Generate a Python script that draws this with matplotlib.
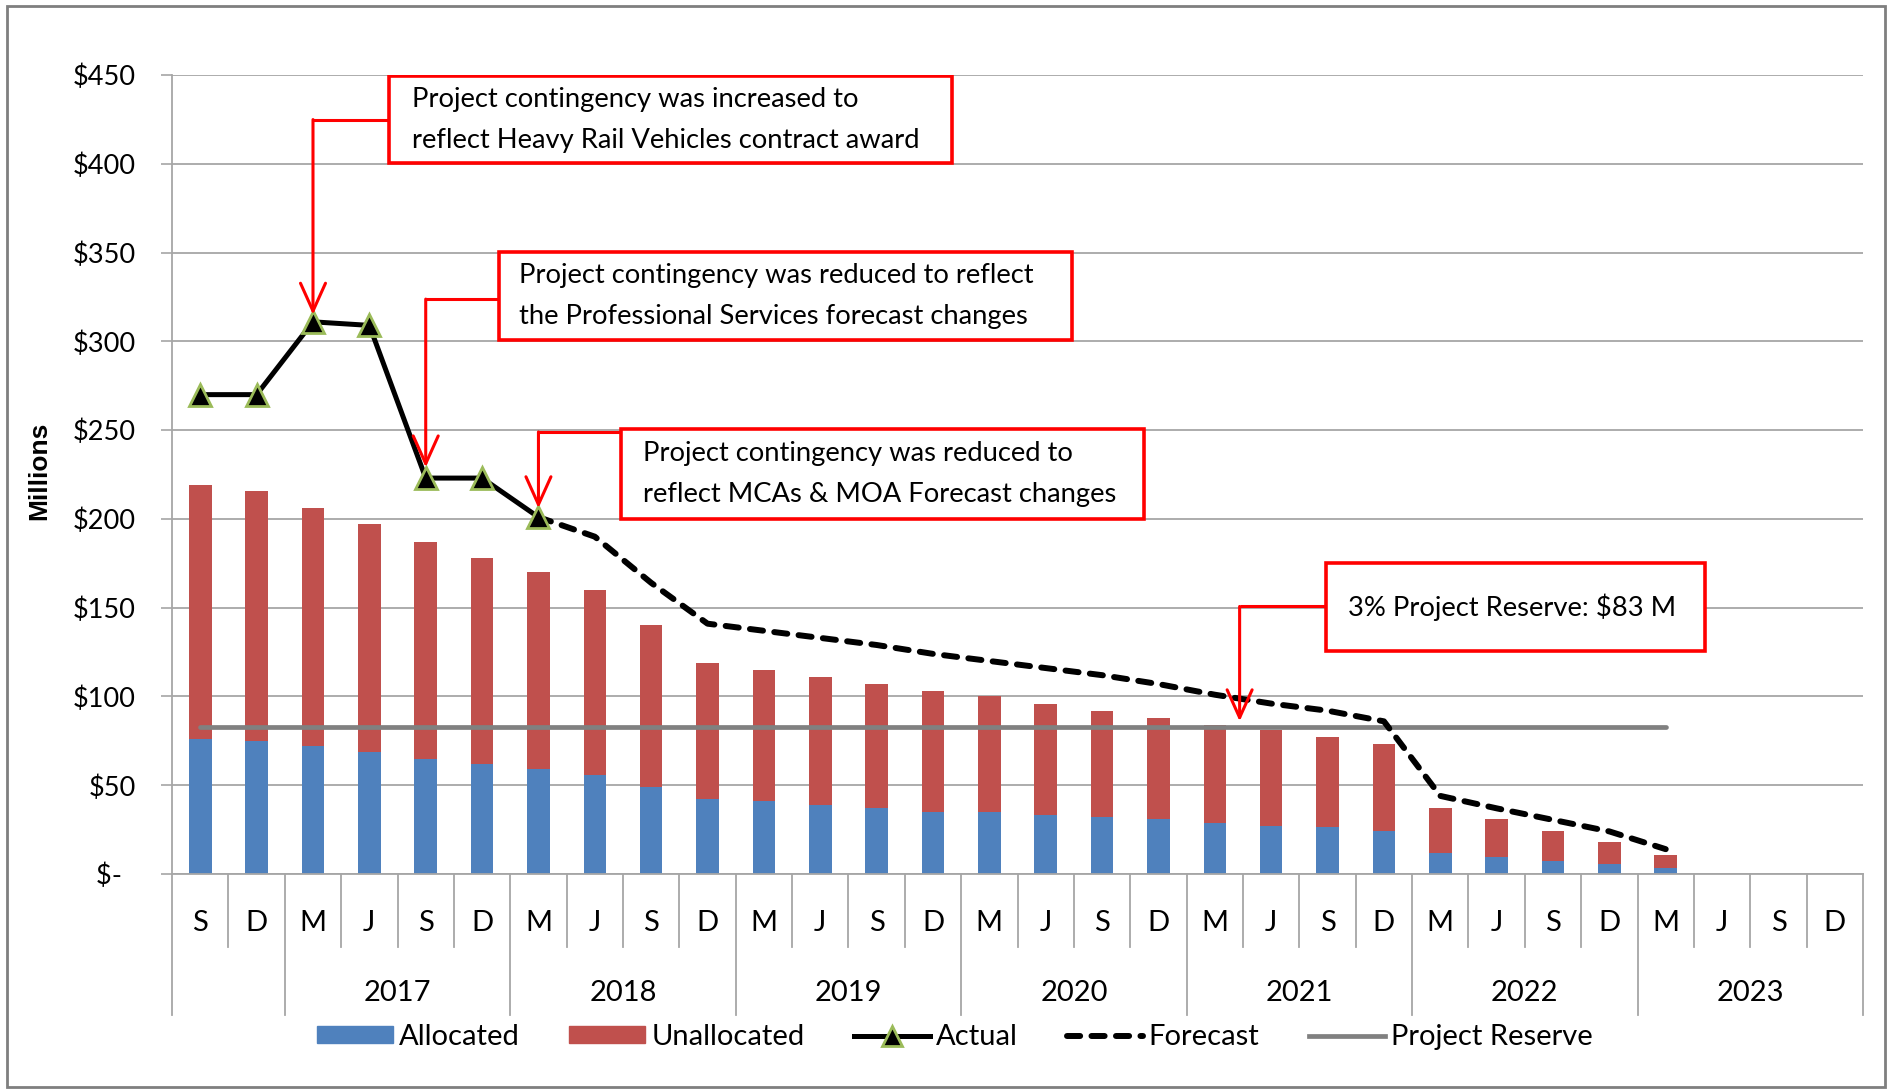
import numpy as np
import matplotlib
matplotlib.use('Agg')
import matplotlib.pyplot as plt
import matplotlib.transforms as mtransforms
from matplotlib.patches import Rectangle
from matplotlib.lines import Line2D

plt.rcParams['font.family'] = ['Lato', 'DejaVu Sans']

# category axis (quarters, grouped by year)
months = ['S', 'D',
          'M', 'J', 'S', 'D', 'M', 'J', 'S', 'D', 'M', 'J', 'S', 'D',
          'M', 'J', 'S', 'D', 'M', 'J', 'S', 'D', 'M', 'J', 'S', 'D',
          'M', 'J', 'S', 'D']
years = ['2017', '2018', '2019', '2020', '2021', '2022', '2023']
year_first = [2, 6, 10, 14, 18, 22, 26]

# values in $ millions
allocated = [76, 75, 72, 69, 65, 62, 59, 56, 49, 42, 41, 39, 37, 35, 35, 33, 32,
             31, 29, 27, 26.5, 24.5, 12, 9.5, 7.5, 5.5, 3.5]
unallocated = [143, 141, 134, 128, 122, 116, 111, 104, 91, 77, 74, 72, 70, 68, 65,
               63, 60, 57, 55, 54, 50.5, 48.5, 25, 21.5, 16.5, 12.5, 7.5]
actual = [270, 270, 311, 309, 223, 223, 201]
forecast_start = 6
forecast = [201, 190, 164, 141, 137, 133, 129, 124, 120, 116, 112, 107, 101, 96,
            92, 86, 44, 37, 30.5, 24, 14]
reserve = 83

BLUE = '#4F81BD'
RED = '#C0504D'
GRID = '#A6A6A6'
FS = 21

fig = plt.figure(figsize=(18.91, 10.89), dpi=100)
ax = fig.add_axes([0.0910, 0.1974, 0.8942, 0.7337])

x = np.arange(len(allocated))
ax.bar(x, allocated, width=0.4, color=BLUE, zorder=2)
ax.bar(x, unallocated, width=0.4, bottom=allocated, color=RED, zorder=2)

ax.plot(x, [reserve] * len(x), color='#808080', lw=3.4, zorder=3,
        solid_capstyle='round')
xf = np.arange(forecast_start, forecast_start + len(forecast))
ax.plot(xf, forecast, color='black', lw=4.3, ls=(0, (2.2, 1.9)),
        dash_capstyle='round', zorder=4)
ax.plot(np.arange(len(actual)), actual, color='black', lw=3.6, marker='^',
        ms=16, mfc='black', mec='#9BBB59', mew=2, zorder=5)

ax.set_xlim(-0.5, len(months) - 0.5)
ax.set_ylim(0, 450)
ax.set_yticks(np.arange(0, 451, 50))
ax.set_yticklabels(['$-  '] + ['$%d' % v for v in range(50, 451, 50)])
ax.tick_params(axis='y', length=8, width=1.2, color=GRID, pad=18, labelsize=19.5)
ax.tick_params(axis='x', length=0, labelbottom=False)
ax.grid(axis='y', color=GRID, lw=1.3, zorder=0)
for s in ['top', 'right']:
    ax.spines[s].set_visible(False)
for s in ['left', 'bottom']:
    ax.spines[s].set_color(GRID)
    ax.spines[s].set_linewidth(1.3)

# multi-level category axis
trans = mtransforms.blended_transform_factory(ax.transData, ax.transAxes)
for i, m in enumerate(months):
    ax.text(i, -0.0613, m, transform=trans, ha='center', va='center', fontsize=FS)
for i in range(len(months) + 1):
    depth = -0.1763 if (i in year_first or i == 0 or i == len(months)) else -0.0913
    ax.plot([i - 0.5, i - 0.5], [0, depth], color=GRID, lw=1.3,
            transform=trans, clip_on=False)
for k, yr in enumerate(years):
    c = year_first[k] + 1.5
    ax.text(c, -0.1488, yr, transform=trans, ha='center', va='center', fontsize=FS)

fig.text(0.0206, 0.568, 'Millions', rotation=90, ha='center', va='center',
         fontsize=19, fontweight='bold', family=['Liberation Sans', 'DejaVu Sans'])

# callouts: box (x0, x1, y0, y1), text x, lines, connector y, corner x, tip y
notes = [
    ((3.35, 13.34, 400.5, 449.3), 3.76,
     'Project contingency was increased to\nreflect Heavy Rail Vehicles contract award',
     424.9, 2.0, 315),
    ((5.30, 15.46, 300.7, 350.2), 5.66,
     'Project contingency was reduced to reflect\nthe Professional Services forecast changes',
     323.8, 4.0, 229),
    ((7.46, 16.75, 200.2, 250.5), 7.85,
     'Project contingency was reduced to\nreflect MCAs & MOA Forecast changes',
     249.0, 6.0, 206),
    ((19.98, 26.70, 125.6, 175.1), 20.36,
     '3% Project Reserve: $83 M',
     150.7, 18.44, 86),
]
for (x0, x1, y0, y1), tx, txt, cy, cx, tip in notes:
    ax.add_patch(Rectangle((x0, y0), x1 - x0, y1 - y0, facecolor='white',
                           edgecolor='red', lw=2.6, zorder=6))
    ax.text(tx, (y0 + y1) / 2, txt, ha='left', va='center', fontsize=19.7,
            linespacing=1.8, zorder=7)
    ax.plot([cx, x0], [cy, cy], color='red', lw=2.2, zorder=6,
            solid_capstyle='butt')
    ax.annotate('', xy=(cx, tip), xytext=(cx, cy),
                arrowprops=dict(arrowstyle='->,head_length=1.0,head_width=0.45',
                                color='red', lw=2.2, shrinkA=0, shrinkB=0,
                                mutation_scale=20),
                zorder=6)

handles = [
    Rectangle((0, 0), 1, 1, color=BLUE),
    Rectangle((0, 0), 1, 1, color=RED),
    Line2D([], [], color='black', lw=3.6, marker='^', ms=14, mfc='black',
           mec='#9BBB59', mew=2),
    Line2D([], [], color='black', lw=4.3, ls=(0, (2.2, 1.9)), dash_capstyle='round'),
    Line2D([], [], color='#808080', lw=3.4),
]
fig.legend(handles, ['Allocated', 'Unallocated', 'Actual', 'Forecast', 'Project Reserve'],
           loc='center', bbox_to_anchor=(0.505, 0.0478), ncol=5, frameon=False,
           fontsize=FS, handlelength=2.6, handleheight=0.5, handletextpad=0.2,
           columnspacing=1.7, borderaxespad=0)

fig.add_artist(Rectangle((0.0037, 0.0018), 0.9931, 0.9927, transform=fig.transFigure,
                         fill=False, edgecolor='#7F7F7F', lw=2))

fig.savefig('out.png', dpi=100)
